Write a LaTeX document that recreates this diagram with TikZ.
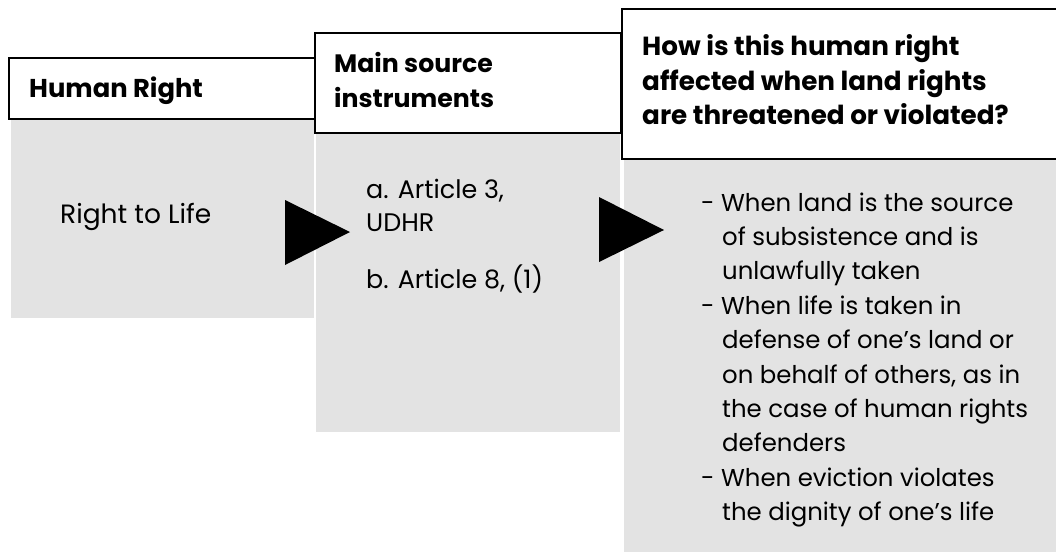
\documentclass[tikz,border=0pt]{standalone}
\usepackage{fontspec}
\setmainfont{Poppins}
\definecolor{panelgray}{RGB}{227,227,227}
\begin{document}
\begin{tikzpicture}[x=1pt,y=-1pt,
  panel/.style={fill=panelgray, draw=none},
  headbox/.style={fill=white, draw=black, line width=2pt},
  pointer/.style={fill=black, draw=none},
  headtext/.style={anchor=base west, inner sep=0pt, font=\fontsize{#1}{34}\selectfont\bfseries},
  bodytext/.style={anchor=base west, inner sep=0pt, font=\fontsize{#1}{34}\selectfont}]
\useasboundingbox (0,0) rectangle (1056,552);

% grey content panels
\fill[panel] (11,119) rectangle (314,318);
\fill[panel] (316,133) rectangle (620,432);
\fill[panel] (624,159) rectangle (1056,552);

% column headers
\draw[headbox] (9,58) rectangle (315,119);
\draw[headbox] (315,33) rectangle (621,133);
\fill[white] (622,9) rectangle (1056,159);
\draw[headbox, fill=none] (1056,9) -- (622,9) -- (622,159) -- (1056,159);

% arrows between the columns
\fill[pointer] (285,200) -- (285,265) -- (350,232) -- cycle;
\fill[pointer] (599,197) -- (599,262) -- (664,230) -- cycle;

% header texts
\node[headtext=25.8] (h1) at (29,97) {Human Right};
\node[headtext=25.2] (h2a) at (334,72) {Main source};
\node[headtext=25.2] (h2b) at (334,107) {instruments};
\node[headtext=26.2] (h3a) at (642,55) {How is this human right};
\node[headtext=26.2] (h3b) at (642,90) {affected when land rights};
\node[headtext=26.2] (h3c) at (642,124) {are threatened or violated?};

% column contents
\node[bodytext=26.5] (right) at (60,223) {Right to Life};
\node[bodytext=25.4] (srcA) at (366,198) {a. Article 3,};
\node[bodytext=25.4] (srcAb) at (366,231) {UDHR};
\node[bodytext=25.4] (srcB) at (366,288) {b. Article 8, (1)};

\foreach \x/\t [count=\i] in {
  701/{- When land is the source},
  722/{of subsistence and is},
  722/{unlawfully taken},
  701/{- When life is taken in},
  722/{defense of one’s land or},
  722/{on behalf of others, as in},
  722/{the case of human rights},
  722/{defenders},
  701/{- When eviction violates},
  722/{the dignity of one’s life}}
  \node[bodytext=24.4] (eff\i) at (\x,{211+34.4*(\i-1)}) {\t};
\end{tikzpicture}
\end{document}
